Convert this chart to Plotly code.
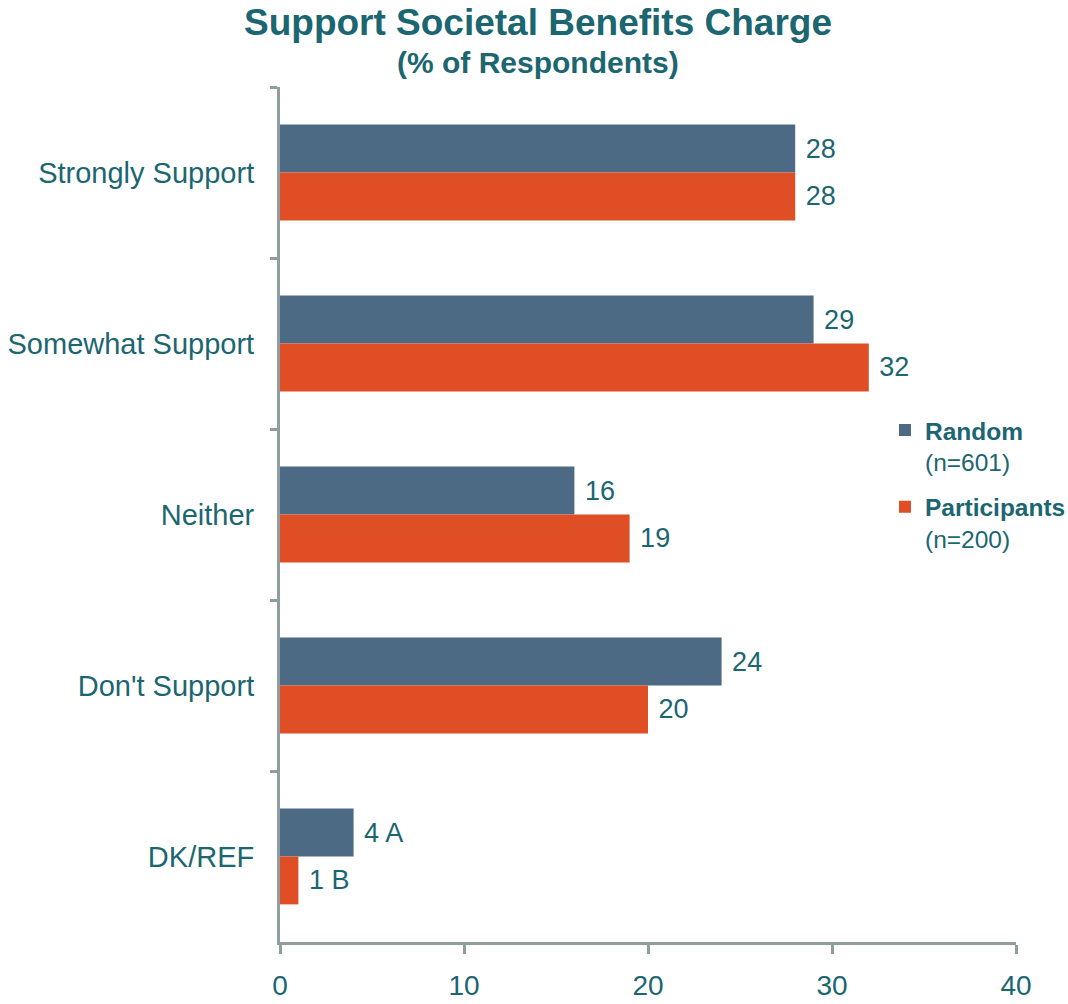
import plotly.graph_objects as go

categories = ["Strongly Support", "Somewhat Support", "Neither", "Don't Support", "DK/REF"]
random_vals = [28, 29, 16, 24, 4]
participant_vals = [28, 32, 19, 20, 1]
random_labels = ["28", "29", "16", "24", "4 A"]
participant_labels = ["28", "32", "19", "20", "1 B"]
x_ticks = [0, 10, 20, 30, 40]

TEAL = "#1B6670"
AXIS = "#8E9E9E"
FONT = "Liberation Sans, Arial, sans-serif"
PAD = "\u00a0"

fig = go.Figure()
fig.add_trace(go.Bar(
    y=categories, x=random_vals, orientation="h",
    name="<b>Random</b><br>(n=601)",
    marker=dict(color="#4C6A84", line=dict(width=0)),
    text=random_labels, texttemplate=PAD + "%{text}",
    textposition="outside", cliponaxis=False,
    textfont=dict(size=27, color=TEAL, family=FONT),
    legendgroup="a",
))
fig.add_trace(go.Bar(
    y=categories, x=participant_vals, orientation="h",
    name="<b>Participants</b><br>(n=200)",
    marker=dict(color="#E04E26", line=dict(width=0)),
    text=participant_labels, texttemplate=PAD + "%{text}",
    textposition="outside", cliponaxis=False,
    textfont=dict(size=27, color=TEAL, family=FONT),
    legendgroup="b",
))

fig.add_annotation(
    text="<b>Support Societal Benefits Charge</b>",
    xref="paper", yref="paper", x=0.35, y=1.0, xanchor="center", yanchor="middle",
    yshift=65, showarrow=False,
    font=dict(size=37, color=TEAL, family=FONT),
)
fig.add_annotation(
    text="<b>(% of Respondents)</b>",
    xref="paper", yref="paper", x=0.35, y=1.0, xanchor="center", yanchor="middle",
    yshift=25, showarrow=False,
    font=dict(size=30, color=TEAL, family=FONT),
)

fig.update_layout(
    width=1068, height=1004,
    paper_bgcolor="white", plot_bgcolor="white",
    margin=dict(l=280, r=52, t=87, b=62, autoexpand=False),
    barmode="group", bargap=0.44, bargroupgap=0,
    font=dict(family=FONT, color=TEAL),
    xaxis=dict(
        range=[0, 40], tickvals=x_ticks, showgrid=False, zeroline=False,
        showline=True, linecolor=AXIS, linewidth=3,
        ticks="outside", ticklen=9, tickwidth=3, tickcolor=AXIS,
        tickfont=dict(size=28, color=TEAL, family=FONT),
        ticklabelstandoff=7,
        automargin=False,
    ),
    yaxis=dict(
        categoryorder="array", categoryarray=categories, autorange="reversed",
        showgrid=False, showline=True, linecolor=AXIS, linewidth=3,
        ticks="outside", ticklen=7, tickwidth=3, tickcolor=AXIS,
        tickson="boundaries",
        tickfont=dict(size=29, color=TEAL, family=FONT),
        ticklabelstandoff=17,
        automargin=False,
    ),
    legend=dict(
        x=0.822, y=0.625, xanchor="left", yanchor="top",
        font=dict(size=24.5, color=TEAL, family=FONT),
        traceorder="grouped", tracegroupgap=10, valign="top",
        itemwidth=30, bgcolor="rgba(0,0,0,0)",
    ),
    showlegend=True,
)

fig.write_html(
    "out.html",
    config={"displayModeBar": False},
    post_script="document.body.style.margin='0';document.body.style.overflow='hidden';",
)
